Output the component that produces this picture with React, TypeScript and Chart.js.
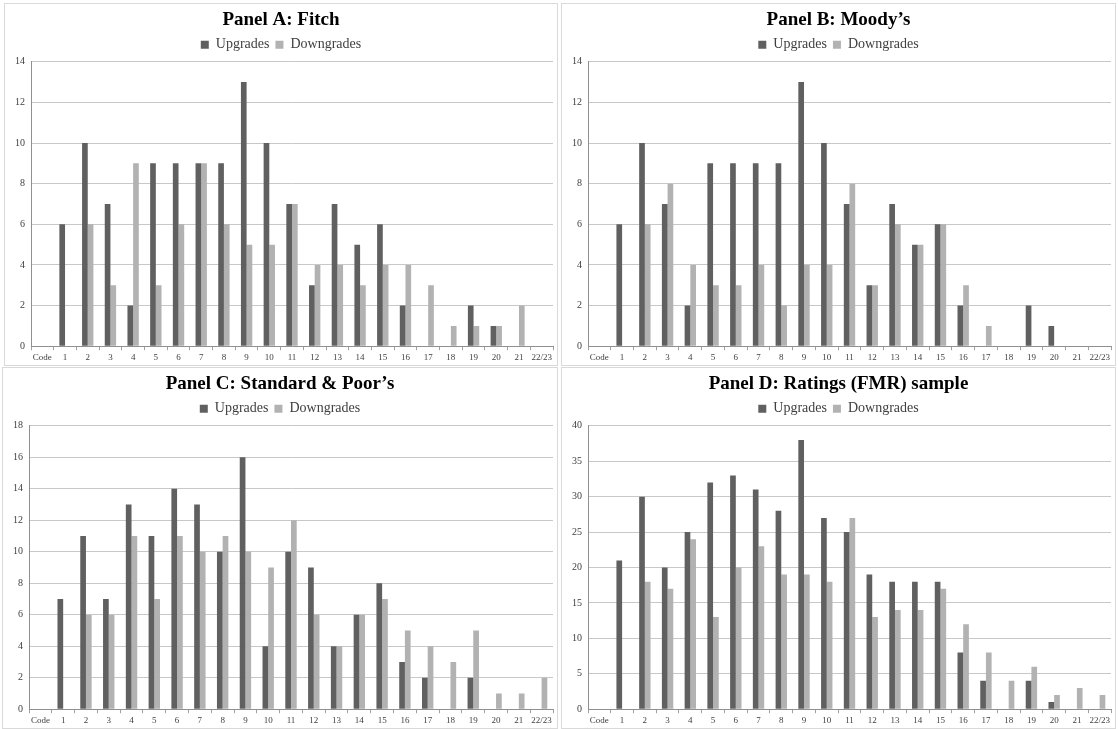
import React, { useEffect, useRef } from "react";
import { Chart, registerables } from "chart.js";

Chart.register(...registerables);

const categories = ["Code", "1", "2", "3", "4", "5", "6", "7", "8", "9", "10", "11", "12", "13", "14", "15", "16", "17", "18", "19", "20", "21", "22/23"];

const fitchUp = [0, 6, 10, 7, 2, 9, 9, 9, 9, 13, 10, 7, 3, 7, 5, 6, 2, 0, 0, 2, 1, 0, 0];
const fitchDown = [0, 0, 6, 3, 9, 3, 6, 9, 6, 5, 5, 7, 4, 4, 3, 4, 4, 3, 1, 1, 1, 2, 0];

const moodysUp = [0, 6, 10, 7, 2, 9, 9, 9, 9, 13, 10, 7, 3, 7, 5, 6, 2, 0, 0, 2, 1, 0, 0];
const moodysDown = [0, 0, 6, 8, 4, 3, 3, 4, 2, 4, 4, 8, 3, 6, 5, 6, 3, 1, 0, 0, 0, 0, 0];

const spUp = [0, 7, 11, 7, 13, 11, 14, 13, 10, 16, 4, 10, 9, 4, 6, 8, 3, 2, 0, 2, 0, 0, 0];
const spDown = [0, 0, 6, 6, 11, 7, 11, 10, 11, 10, 9, 12, 6, 4, 6, 7, 5, 4, 3, 5, 1, 1, 2];

const fmrUp = [0, 21, 30, 20, 25, 32, 33, 31, 28, 38, 27, 25, 19, 18, 18, 18, 8, 4, 0, 4, 1, 0, 0];
const fmrDown = [0, 0, 18, 17, 24, 13, 20, 23, 19, 19, 18, 27, 13, 14, 14, 17, 12, 8, 4, 6, 2, 3, 2];

const seriesNames = ["Upgrades", "Downgrades"];

const UP_COLOR = "#606060";
const DOWN_COLOR = "#b2b2b2";
const FONT = "'Liberation Serif', 'DejaVu Serif', serif";

type PanelProps = {
  title: string;
  up: number[];
  down: number[];
  max: number;
  step: number;
  left: number;
  top: number;
  width: number;
  height: number;
};

function Panel({ title, up, down, max, step, left, top, width, height }: PanelProps) {
  const ref = useRef<HTMLCanvasElement | null>(null);
  useEffect(() => {
    if (!ref.current) return;
    const chart = new Chart(ref.current, {
      type: "bar",
      data: {
        labels: categories,
        datasets: [
          { label: seriesNames[0], data: up, backgroundColor: UP_COLOR, barPercentage: 1, categoryPercentage: 0.5 },
          { label: seriesNames[1], data: down, backgroundColor: DOWN_COLOR, barPercentage: 1, categoryPercentage: 0.5 },
        ],
      },
      options: {
        responsive: true,
        maintainAspectRatio: false,
        animation: false,
        layout: { padding: { left: 4, right: 4, top: 3, bottom: 0 } },
        plugins: {
          title: {
            display: true,
            text: title,
            color: "#000",
            font: { family: FONT, size: 19, weight: "bold" },
            padding: { top: 2, bottom: 0 },
          },
          legend: {
            display: true,
            position: "top",
            labels: {
              color: "#404040",
              boxWidth: 8,
              boxHeight: 8,
              padding: 6,
              font: { family: FONT, size: 14 },
            },
          },
          tooltip: { enabled: false },
        },
        scales: {
          x: {
            grid: {
              display: true,
              drawOnChartArea: false,
              drawTicks: true,
              tickLength: 4,
              offset: true,
              color: "#a0a0a0",
            },
            border: { display: true, color: "#909090" },
            ticks: {
              color: "#404040",
              font: { family: FONT, size: 9 },
              maxRotation: 0,
              autoSkip: false,
              padding: 2,
            },
          },
          y: {
            min: 0,
            max: max,
            grid: { color: "#c8c8c8", drawTicks: false },
            border: { display: true, color: "#909090" },
            ticks: {
              stepSize: step,
              color: "#404040",
              font: { family: FONT, size: 10 },
              padding: 6,
            },
          },
        },
      },
    });
    return () => chart.destroy();
  }, []);
  return (
    <div
      style={{
        position: "absolute",
        left,
        top,
        width,
        height,
        border: "1px solid #d9d9d9",
        boxSizing: "border-box",
        background: "#fff",
      }}
    >
      <canvas ref={ref} />
    </div>
  );
}

export default function App() {
  return (
    <div style={{ position: "fixed", left: 0, top: 0, width: 1118, height: 729, background: "#fff", overflow: "hidden" }}>
      <Panel title="Panel A: Fitch" up={fitchUp} down={fitchDown} max={14} step={2} left={4} top={3} width={554} height={363} />
      <Panel title="Panel B: Moody’s" up={moodysUp} down={moodysDown} max={14} step={2} left={561} top={3} width={555} height={363} />
      <Panel title="Panel C: Standard & Poor’s" up={spUp} down={spDown} max={18} step={2} left={2} top={367} width={556} height={362} />
      <Panel title="Panel D: Ratings (FMR) sample" up={fmrUp} down={fmrDown} max={40} step={5} left={561} top={367} width={555} height={362} />
    </div>
  );
}
